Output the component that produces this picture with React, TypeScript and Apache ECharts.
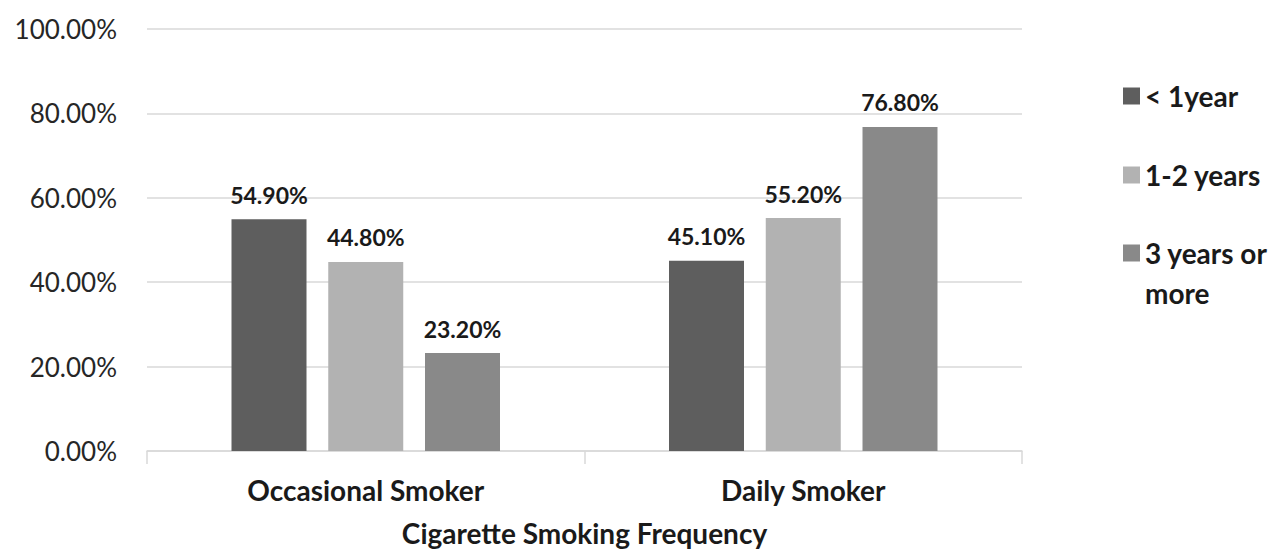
import React, { useEffect, useRef } from "react";
import * as echarts from "echarts";

const categories = ["Occasional Smoker", "Daily Smoker"];
const seriesNames = ["< 1year", "1-2 years", "3 years or more"];
const lessThan1Year = [54.9, 45.1];
const oneToTwoYears = [44.8, 55.2];
const threeYearsOrMore = [23.2, 76.8];
const yTicks = [0, 20, 40, 60, 80, 100];
const xAxisTitle = "Cigarette Smoking Frequency";

const colors = ["#5e5e5e", "#b2b2b2", "#898989"];
const FONT = "Lato, 'Open Sans', sans-serif";

export default function App() {
  const ref = useRef<HTMLDivElement>(null);
  useEffect(() => {
    if (!ref.current) return;
    const chart = echarts.init(ref.current, null, { renderer: "svg" });
    const values = [lessThan1Year, oneToTwoYears, threeYearsOrMore];
    const series = seriesNames.map((name, i) => ({
      name,
      type: "bar",
      data: values[i],
      barWidth: 75,
      barGap: "29%",
      itemStyle: { color: colors[i] },
      label: {
        show: true,
        position: "top",
        distance: 13,
        formatter: (p: any) => `${p.value.toFixed(2)}%`,
        fontFamily: FONT,
        fontWeight: "bold",
        fontSize: 23,
        color: "#1a1a1a",
      },
    }));
    const legendText = {
      fontFamily: FONT,
      fontWeight: "bold",
      fontSize: 28,
      lineHeight: 40,
      color: "#1a1a1a",
    };
    chart.setOption({
      animation: false,
      backgroundColor: "#ffffff",
      textStyle: { fontFamily: FONT },
      grid: {
        left: 147,
        right: 253,
        top: 29,
        bottom: 98,
        containLabel: false,
        outerBoundsMode: "none",
      },
      legend: [
        {
          data: seriesNames.slice(0, 2),
          orient: "vertical",
          left: 1123,
          top: 76,
          padding: 0,
          itemWidth: 17,
          itemHeight: 17,
          itemGap: 39,
          icon: "rect",
          textStyle: legendText,
        },
        {
          data: [seriesNames[2]],
          orient: "vertical",
          left: 1123,
          top: 233,
          padding: 0,
          itemWidth: 17,
          itemHeight: 57,
          icon: "path://M0,0H17V17H0Z M0,57H17V57H0Z",
          formatter: () => "3 years or\nmore",
          textStyle: legendText,
        },
      ],
      xAxis: {
        type: "category",
        data: categories,
        name: xAxisTitle,
        nameLocation: "middle",
        nameGap: 67,
        nameTextStyle: {
          fontFamily: FONT,
          fontWeight: "bold",
          fontSize: 28,
          lineHeight: 30,
          color: "#1a1a1a",
        },
        axisLine: { lineStyle: { color: "#d9d9d9", width: 1.5 } },
        axisTick: { show: true, length: 13, lineStyle: { color: "#d9d9d9", width: 1.5 } },
        axisLabel: {
          margin: 25,
          fontFamily: FONT,
          fontWeight: "bold",
          fontSize: 28,
          color: "#1a1a1a",
        },
      },
      yAxis: {
        type: "value",
        min: yTicks[0],
        max: yTicks[yTicks.length - 1],
        interval: yTicks[1] - yTicks[0],
        axisLine: { show: false },
        axisTick: { show: false },
        splitLine: { lineStyle: { color: "#d9d9d9", width: 1.5 } },
        axisLabel: {
          margin: 30,
          fontFamily: FONT,
          fontSize: 26,
          color: "#262626",
          formatter: (v: number) => `${v.toFixed(2)}%`,
        },
      },
      series,
    });
    return () => chart.dispose();
  }, []);
  return (
    <div
      ref={ref}
      style={{ position: "fixed", left: 0, top: 0, width: 1275, height: 549 }}
    />
  );
}
